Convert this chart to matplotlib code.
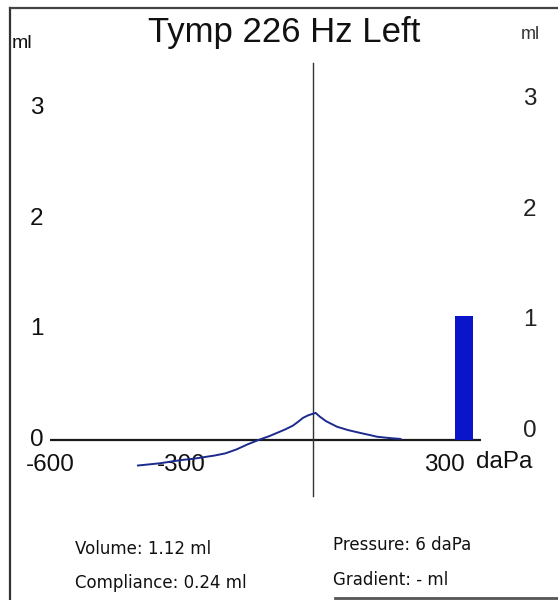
import matplotlib
matplotlib.use("Agg")
import matplotlib.pyplot as plt
from matplotlib.lines import Line2D

# ---- data ----
title = "Tymp 226 Hz Left"
pressure_dapa = [-400, -375, -350, -325, -300, -275, -250, -225, -200, -175, -150, -125, -100,
                 -82, -64, -46, -34, -23, -10, 6, 16, 30, 55, 80, 107, 130, 146, 165, 183, 200]
compliance_ml = [-0.23, -0.22, -0.21, -0.195, -0.18, -0.17, -0.155, -0.14, -0.12, -0.085, -0.04, 0.0, 0.035,
                 0.065, 0.095, 0.13, 0.165, 0.20, 0.225, 0.245, 0.21, 0.17, 0.12, 0.09, 0.065, 0.045, 0.03, 0.022, 0.015, 0.01]
volume_bar_x = [345]
volume_bar_ml = [1.12]
y_ticks = [0, 1, 2, 3]
x_ticks = [-600, -300, 300]
x_tick_labels = ["-600", "-300", "300"]
info_left = ["Volume: 1.12 ml", "Compliance: 0.24 ml"]
info_right = ["Pressure: 6 daPa", "Gradient: - ml"]

plt.rcParams['font.family'] = ['Liberation Sans', 'DejaVu Sans']

fig = plt.figure(figsize=(5.58, 6.0), dpi=100)
fig.patch.set_facecolor('white')
ax = fig.add_axes([0, 0, 1, 1])
ax.set_xlim(-715.4, 560.0)
ax.set_ylim(-1.445, 3.975)
ax.axis('off')

# frame of the printout
fig.add_artist(Line2D([0.018, 0.018], [0.0, 0.987], transform=fig.transFigure, color='#333333', lw=1.6))
fig.add_artist(Line2D([0.018, 1.0], [0.987, 0.987], transform=fig.transFigure, color='#444444', lw=1.6))
fig.add_artist(Line2D([0.60, 1.0], [0.004, 0.004], transform=fig.transFigure, color='#555555', lw=2.0))

# axes lines
ax.plot([-600, 383], [0, 0], color='#1a1a1a', lw=1.6, solid_capstyle='butt', zorder=2)
ax.plot([0, 0], [-0.51, 3.41], color='#333333', lw=1.0, zorder=2)

# volume bar
ax.bar(volume_bar_x, volume_bar_ml, width=41, color='#0a14c8', zorder=3)

# tympanogram curve
ax.plot(pressure_dapa, compliance_ml, color='#1c2a8c', lw=1.4, zorder=4)

# y labels on both sides
FS = 17.5
for v in y_ticks:
    ax.text(-632, v, str(v), ha='center', va='center', fontsize=FS, color='#111111')
    ax.text(496, v + 0.08, str(v), ha='center', va='center', fontsize=FS, color='#222222')

# x labels
for v, lab in zip(x_ticks, x_tick_labels):
    ax.text(v, -0.23, lab, ha='center', va='center', fontsize=FS, color='#111111')
ax.annotate("daPa", xy=(300, -0.20), xytext=(23, 0), textcoords='offset points',
            ha='left', va='center', fontsize=FS, color='#111111')

# units and title
ax.text(-664, 3.58, "ml", ha='center', va='center', fontsize=14, color='#111111')
ax.text(496, 3.66, "ml", ha='center', va='center', fontsize=13, color='#333333')
ax.text(-65, 3.68, title, ha='center', va='center', fontsize=25, color='#111111')

# info text
for i, t in enumerate(info_left):
    fig.text(0.134, 1 - (549 + 34 * i) / 600, t, ha='left', va='center',
             fontsize=12, family='DejaVu Sans', color='#111111')
for i, t in enumerate(info_right):
    fig.text(0.597, 1 - (545 + 35 * i) / 600, t, ha='left', va='center',
             fontsize=12, family='DejaVu Sans', color='#111111')

fig.savefig("out.png", dpi=100, facecolor='white')
